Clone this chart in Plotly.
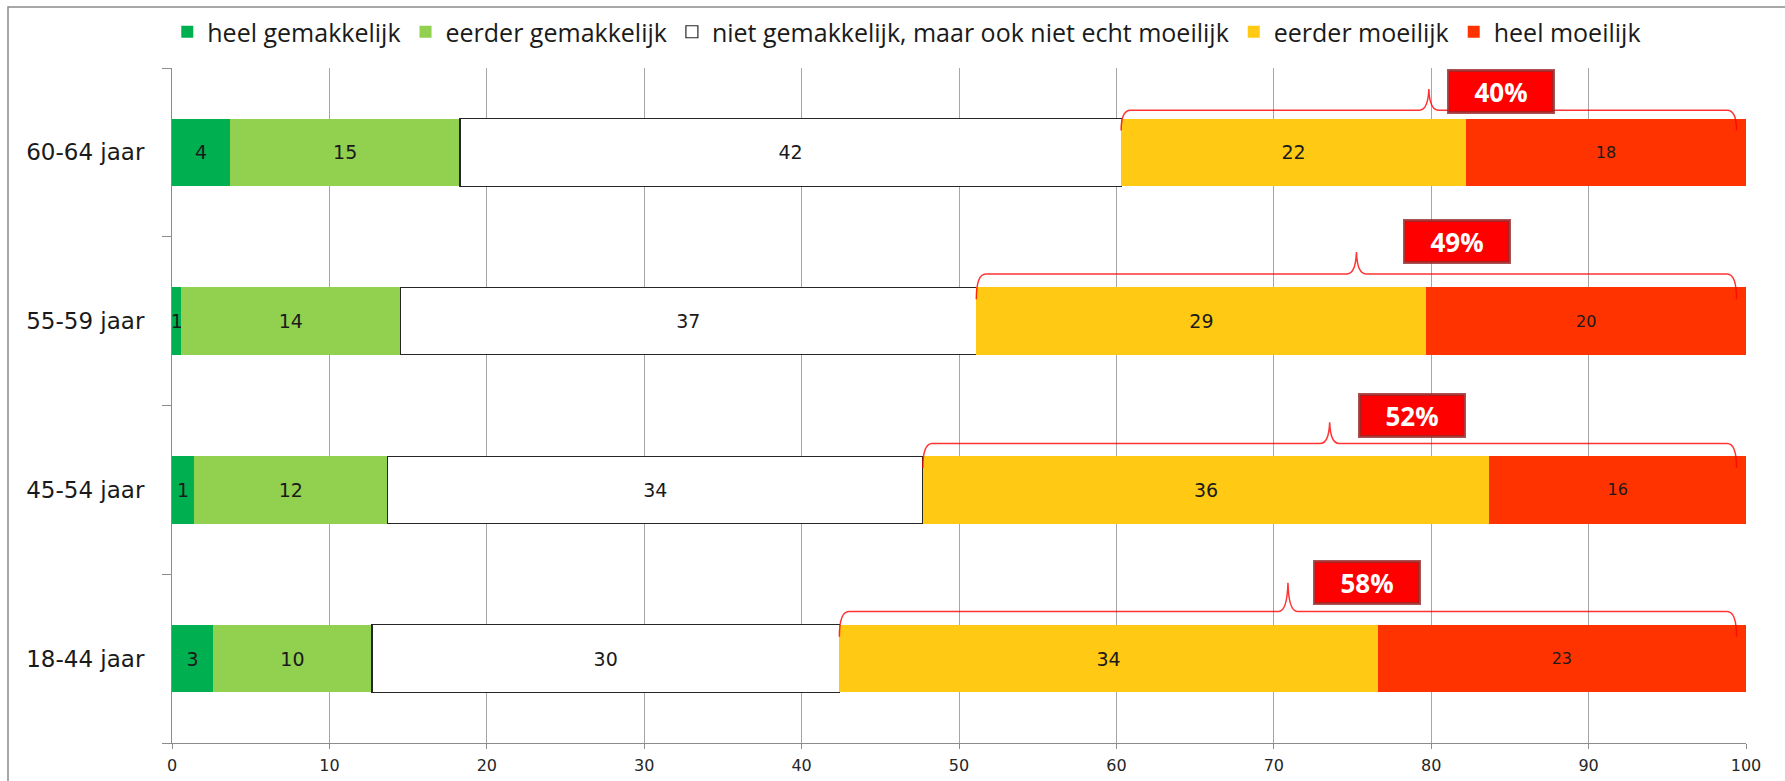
import plotly.graph_objects as go

# Age groups (bottom to top) and answer shares in percent
categories = ["18-44 jaar", "45-54 jaar", "55-59 jaar", "60-64 jaar"]
heel_gemakkelijk = [2.6, 1.4, 0.6, 3.7]
eerder_gemakkelijk = [10.1, 12.3, 13.9, 14.6]
neutraal = [29.7, 34.0, 36.6, 42.0]
eerder_moeilijk = [34.2, 36.0, 28.6, 21.9]
heel_moeilijk = [23.4, 16.3, 20.3, 17.8]
x_ticks = [0, 10, 20, 30, 40, 50, 60, 70, 80, 90, 100]

series = [
    ("heel gemakkelijk", heel_gemakkelijk, "#00B050", None, 19),
    ("eerder gemakkelijk", eerder_gemakkelijk, "#92D050", None, 19),
    ("niet gemakkelijk, maar ook niet echt moeilijk", neutraal, "#FFFFFF", "#262626", 19),
    ("eerder moeilijk", eerder_moeilijk, "#FFC914", None, 19),
    ("heel moeilijk", heel_moeilijk, "#FF3300", None, 16),
]

BARGAP = 0.6
fig = go.Figure()
for name, vals, color, edge, fsize in series:
    fig.add_trace(go.Bar(
        y=categories, x=vals, orientation="h", name=name,
        marker=dict(color=color,
                    line=dict(color=edge or color, width=1.2 if edge else 0)),
        texttemplate="%{x:.0f}", textposition="inside",
        insidetextanchor="middle", textangle=0, constraintext="none",
        textfont=dict(family="DejaVu Sans", size=fsize, color="#1a1a1a"),
        hoverinfo="x+name",
    ))

# Curly braces over the two "moeilijk" segments, with a total-percentage badge
half = (1 - BARGAP) / 2
line_off = [0.08, 0.075, 0.08, 0.05]
tip_off = [0.25, 0.20, 0.21, 0.175]
box_off = [0.25, 0.24, 0.27, 0.16]
box_dx = [5.0, 5.2, 6.4, 4.6]
shapes = []
annotations = []
for i, cat in enumerate(categories):
    x0 = heel_gemakkelijk[i] + eerder_gemakkelijk[i] + neutraal[i]
    x1 = 99.4
    xm = (x0 + x1) / 2
    top = i + half
    yl = top + line_off[i]
    ye = top - 0.07
    yt = top + tip_off[i]
    r = 0.6
    path = (
        f"M{x0:.3f},{ye:.3f} Q{x0:.3f},{yl:.3f} {x0 + r:.3f},{yl:.3f} "
        f"L{xm - r:.3f},{yl:.3f} Q{xm - 0.05:.3f},{yl:.3f} {xm:.3f},{yt:.3f} "
        f"Q{xm + 0.05:.3f},{yl:.3f} {xm + r:.3f},{yl:.3f} "
        f"L{x1 - r:.3f},{yl:.3f} Q{x1:.3f},{yl:.3f} {x1:.3f},{ye:.3f}"
    )
    shapes.append(dict(type="path", xref="x", yref="y", path=path,
                       line=dict(color="rgba(255,0,0,0.8)", width=1.5),
                       layer="above"))
    total = round(eerder_moeilijk[i] + heel_moeilijk[i])
    annotations.append(dict(
        x=xm + box_dx[i], y=top + box_off[i], xref="x", yref="y",
        text=f"<b>{total}%</b>", showarrow=False,
        bgcolor="#FF0000", bordercolor="rgba(150,40,40,0.8)",
        borderwidth=3, borderpad=3, width=96, height=33,
        font=dict(family="Open Sans", size=26, color="white"),
    ))

# Chart-area frame
W, H = 1785, 781
L, R, T, B = 172, 39, 68, 38
pw, ph = W - L - R, H - T - B
shapes.append(dict(type="rect", xref="paper", yref="paper",
                   x0=(8 - L) / pw, x1=1.2, y0=-0.3, y1=(H - B - 7) / ph,
                   line=dict(color="#8a8a8a", width=1.5),
                   fillcolor="rgba(0,0,0,0)", layer="below"))

fig.update_layout(
    barmode="stack", bargap=BARGAP,
    width=W, height=H, autosize=False,
    margin=dict(l=L, r=R, t=T, b=B, pad=0, autoexpand=False),
    paper_bgcolor="white", plot_bgcolor="white",
    shapes=shapes, annotations=annotations,
    legend=dict(orientation="h", xref="container", yref="container",
                x=0.508, xanchor="center", y=1 - 32 / H, yanchor="middle",
                font=dict(family="Open Sans", size=25, color="#1a1a1a"),
                itemwidth=30, bgcolor="rgba(0,0,0,0)", traceorder="normal"),
    xaxis=dict(range=[0, 100], tickvals=x_ticks, showgrid=True,
               gridcolor="#a6a6a6", gridwidth=1, zeroline=False,
               showline=True, linecolor="#8c8c8c", linewidth=1,
               ticks="outside", ticklen=5, tickcolor="#8c8c8c",
               ticklabelstandoff=3, automargin=False,
               tickfont=dict(family="DejaVu Sans", size=16, color="#262626")),
    yaxis=dict(type="category", categoryorder="array", categoryarray=categories,
               tickson="boundaries", ticks="outside", ticklen=9,
               tickcolor="#8c8c8c", showline=True, linecolor="#8c8c8c",
               linewidth=1, showgrid=False, zeroline=False,
               ticklabelstandoff=22, automargin=False,
               tickfont=dict(family="DejaVu Sans", size=23, color="#1a1a1a")),
)

fig.write_html("out.html")
